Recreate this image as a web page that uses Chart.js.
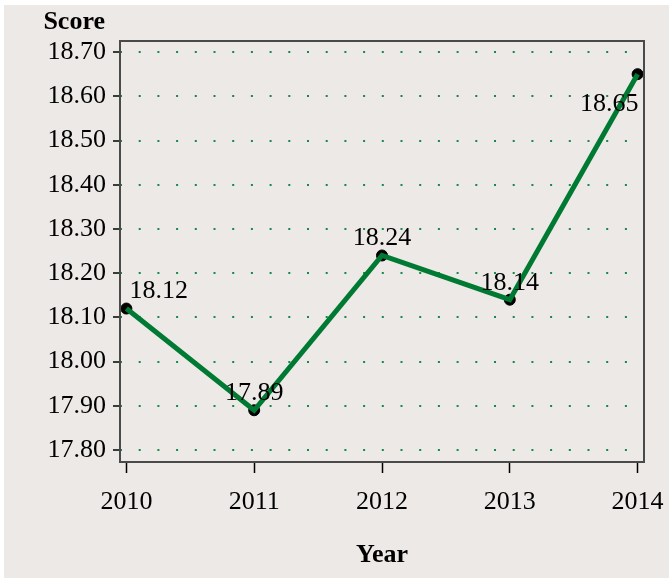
<!DOCTYPE html>
<html>
<head>
<meta charset="utf-8">
<script src="https://cdn.jsdelivr.net/npm/chart.js@4/dist/chart.umd.min.js"></script>
<style>
  html, body { margin: 0; padding: 0; background: #ffffff; }
  #wrap { width: 669px; height: 578px; position: relative; }
</style>
</head>
<body>
<div id="wrap"><canvas id="c" width="669" height="578"></canvas></div>
<script>
const years = [2010, 2011, 2012, 2013, 2014];
const scores = [18.12, 17.89, 18.24, 18.14, 18.65];
const yTicks = [17.80, 17.90, 18.00, 18.10, 18.20, 18.30, 18.40, 18.50, 18.60, 18.70];
const xTitle = 'Year';
const yTitle = 'Score';

const SERIF = '"Liberation Serif", "DejaVu Serif", serif';
const BG = '#ECE9E7';
const FS = 26;

const backgroundPlugin = {
  id: 'bgPanel',
  beforeDraw(chart) {
    const ctx = chart.ctx;
    ctx.save();
    ctx.fillStyle = '#ffffff';
    ctx.fillRect(0, 0, chart.width, chart.height);
    ctx.fillStyle = BG;
    ctx.fillRect(4, 5, chart.width - 4, chart.height - 5);
    ctx.restore();
  }
};

const framePlugin = {
  id: 'frame',
  afterDatasetsDraw(chart) {
    const {ctx, chartArea: a} = chart;
    ctx.save();
    ctx.strokeStyle = '#4a4a4a';
    ctx.lineWidth = 2;
    ctx.strokeRect(a.left, a.top, a.right - a.left, a.bottom - a.top);
    ctx.fillStyle = '#000';
    ctx.font = 'bold ' + FS + 'px ' + SERIF;
    ctx.textAlign = 'right';
    ctx.textBaseline = 'middle';
    ctx.fillText(yTitle, a.left - 15, a.top - 19);
    ctx.restore();
  },
  afterDraw(chart) {
    const {ctx} = chart;
    const meta = chart.getDatasetMeta(0);
    ctx.save();
    ctx.fillStyle = '#000';
    ctx.font = FS + 'px ' + SERIF;
    ctx.textBaseline = 'middle';
    const n = meta.data.length;
    meta.data.forEach((pt, i) => {
      const txt = scores[i].toFixed(2);
      if (i === 0) {
        ctx.textAlign = 'left';
        ctx.fillText(txt, pt.x + 3, pt.y - 17);
      } else if (i === n - 1) {
        ctx.textAlign = 'right';
        ctx.fillText(txt, pt.x + 1, pt.y + 30);
      } else {
        ctx.textAlign = 'center';
        ctx.fillText(txt, pt.x, pt.y - 17);
      }
    });
    ctx.restore();
  }
};

const pts = years.map((y, i) => ({x: y, y: scores[i]}));

new Chart(document.getElementById('c'), {
  type: 'line',
  data: {
    datasets: [
      {
        label: 'line',
        data: pts,
        borderColor: '#007A33',
        borderWidth: 5,
        pointRadius: 0,
        tension: 0,
        fill: false,
        order: 1
      },
      {
        label: 'markers',
        data: pts,
        showLine: false,
        pointRadius: 5.5,
        pointBackgroundColor: '#000',
        pointBorderColor: '#000',
        pointBorderWidth: 1,
        order: 2
      }
    ]
  },
  options: {
    responsive: false,
    animation: false,
    devicePixelRatio: 1,
    layout: { padding: { left: 0, top: 41, right: 25, bottom: 0 } },
    plugins: {
      legend: { display: false },
      tooltip: { enabled: false },
      title: { display: false }
    },
    scales: {
      x: {
        type: 'linear',
        min: 2009.95,
        max: 2014.05,
        afterBuildTicks(axis) { axis.ticks = years.map(v => ({value: v})); },
        afterFit(axis) { axis.height = 116; axis.paddingLeft = 0; axis.paddingRight = 0; },
        grid: {
          drawOnChartArea: false,
          drawTicks: true,
          tickLength: 11,
          tickColor: '#000',
          tickWidth: 1.5
        },
        border: { display: false },
        ticks: {
          color: '#000',
          font: { family: SERIF, size: FS },
          padding: 14,
          maxRotation: 0,
          callback: v => String(v)
        },
        title: {
          display: true,
          text: xTitle,
          color: '#000',
          font: { family: SERIF, size: FS, weight: 'bold' },
          padding: { top: 0, bottom: 7 }
        }
      },
      y: {
        type: 'linear',
        min: 17.773,
        max: 18.725,
        afterBuildTicks(axis) { axis.ticks = yTicks.map(v => ({value: v})); },
        afterFit(axis) { axis.width = 120; axis.paddingTop = 0; axis.paddingBottom = 0; },
        grid: {
          color: '#138A48',
          lineWidth: 2,
          drawTicks: true,
          tickLength: 7,
          tickColor: '#000',
          tickWidth: 1.5,
          tickBorderDash: []
        },
        border: { display: false, dash: [2, 16.7], dashOffset: 0 },
        ticks: {
          color: '#000',
          font: { family: SERIF, size: FS },
          padding: 7,
          callback: v => Number(v).toFixed(2)
        }
      }
    }
  },
  plugins: [backgroundPlugin, framePlugin]
});
</script>
</body>
</html>
